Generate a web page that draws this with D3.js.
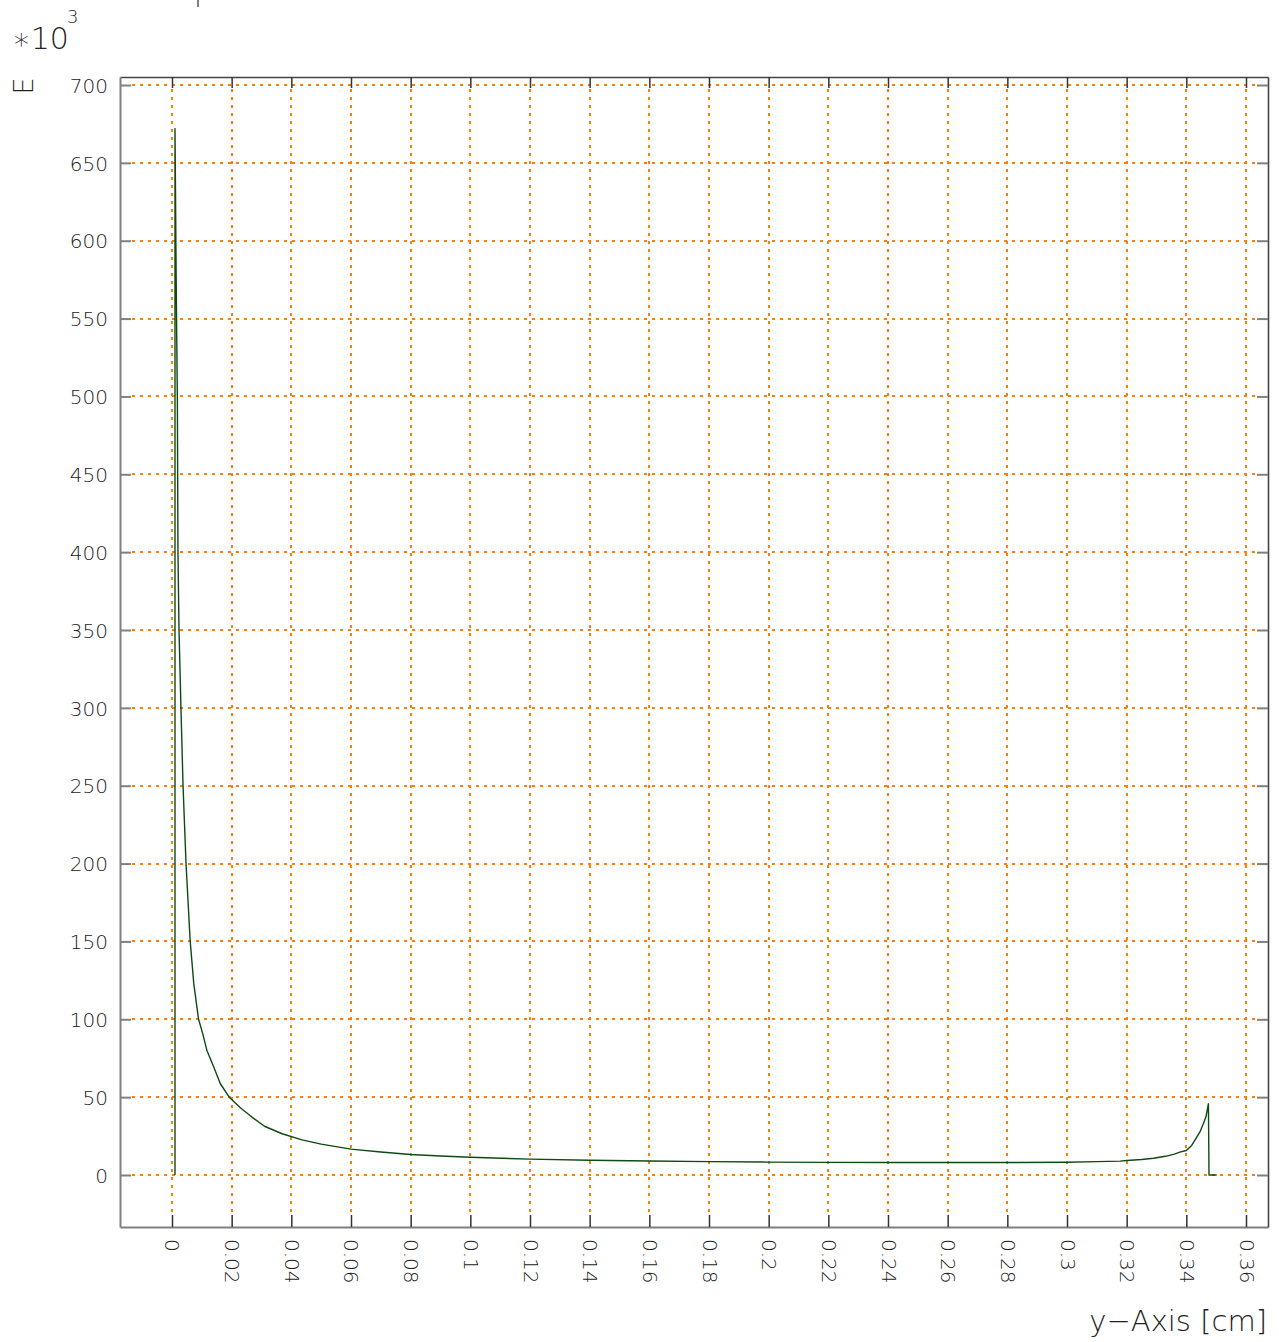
<!DOCTYPE html>
<html>
<head>
<meta charset="utf-8">
<script src="https://cdn.jsdelivr.net/npm/d3@7"></script>
<style>
  html, body { margin: 0; padding: 0; background: #fff; }
  svg { display: block; }
  text { font-family: "DejaVu Sans", sans-serif; font-weight: 200; fill: #222; }
</style>
</head>
<body>
<svg id="chart" width="1279" height="1342"></svg>
<script>
// ---- data ----
const posX = [0.0010, 0.0010, 0.0012, 0.0014, 0.0016, 0.0018, 0.0020, 0.00235, 0.0030, 0.0037,
              0.0047, 0.0061, 0.0073, 0.0089, 0.0103, 0.0117, 0.0140, 0.0162, 0.0192,
              0.0230, 0.0268, 0.0310, 0.0369, 0.0436, 0.050, 0.060, 0.070, 0.080, 0.090,
              0.10, 0.12, 0.14, 0.16, 0.18, 0.20, 0.22, 0.24, 0.26, 0.28,
              0.30, 0.31, 0.3178, 0.3200, 0.3250, 0.3290, 0.3330, 0.3360, 0.3378, 0.3400,
              0.3418, 0.3435, 0.3446, 0.3457, 0.3466, 0.3474, 0.3476, 0.3502];
const fieldE = [0, 672, 625, 575, 535, 498, 400, 350, 300, 250,
                200, 150, 122.9, 100, 90.8, 80, 69.3, 58.6, 50,
                43, 37.2, 31.3, 26.5, 22.6, 19.8, 16.6, 14.8, 13.2, 12.2,
                11.4, 10.2, 9.5, 9.0, 8.6, 8.3, 8.1, 8.0, 8.0, 8.0,
                8.2, 8.6, 8.9, 9.3, 10.0, 10.8, 12.0, 13.4, 14.7, 15.7,
                19.0, 24.3, 27.8, 32.9, 37.5, 45.8, 0, 0];
const xTicks = [0, 0.02, 0.04, 0.06, 0.08, 0.1, 0.12, 0.14, 0.16, 0.18,
                0.2, 0.22, 0.24, 0.26, 0.28, 0.3, 0.32, 0.34, 0.36];
const yTicks = [0, 50, 100, 150, 200, 250, 300, 350, 400, 450, 500, 550, 600, 650, 700];
const xTitle = "y\u2212Axis [cm]";
const yTitle = "E";
const yScaleLabel = "\u221710";
const yScaleExp = "3";

// ---- layout ----
const L = 120, R = 1268, T = 77, B = 1227;
const svg = d3.select("#chart");

const x = d3.scaleLinear().domain([-0.017430, 0.367374]).range([L, R]);
const y = d3.scaleLinear().domain([-33.394, 705.138]).range([B, T]);

// grid
const grid = svg.append("g").attr("stroke", "#ff8000").attr("stroke-width", 2)
  .attr("stroke-dasharray", "3,5");
grid.selectAll("line.v").data(xTicks).join("line").attr("class", "v")
  .attr("x1", d => Math.round(x(d))).attr("x2", d => Math.round(x(d)))
  .attr("y1", T + 12).attr("y2", B - 12);
grid.selectAll("line.h").data(yTicks).join("line").attr("class", "h")
  .attr("y1", d => Math.round(y(d))).attr("y2", d => Math.round(y(d)))
  .attr("x1", L + 12).attr("x2", R - 11);

const fmt = d => String(+d.toFixed(2));

// axes
const gB = svg.append("g").attr("transform", `translate(0,${B})`)
  .call(d3.axisBottom(x).tickValues(xTicks).tickSize(-12).tickSizeOuter(0).tickFormat(fmt));
const gT = svg.append("g").attr("transform", `translate(0,${T})`)
  .call(d3.axisTop(x).tickValues(xTicks).tickSize(-11).tickSizeOuter(0).tickFormat(""));
const gL = svg.append("g").attr("transform", `translate(${L},0)`)
  .call(d3.axisLeft(y).tickValues(yTicks).tickSize(-11).tickSizeOuter(0).tickFormat(d3.format("d")));
const gR = svg.append("g").attr("transform", `translate(${R},0)`)
  .call(d3.axisRight(y).tickValues(yTicks).tickSize(-11).tickSizeOuter(0).tickFormat(""));

[gB, gL].forEach(g => {
  g.select(".domain").attr("stroke", "#808080").attr("stroke-width", 2);
});
[gT, gR].forEach(g => {
  g.select(".domain").attr("stroke", "#444").attr("stroke-width", 1.6);
});
gB.selectAll(".tick line").attr("stroke", "#333").attr("stroke-width", 1.5);
gT.selectAll(".tick line").attr("stroke", "#333").attr("stroke-width", 1.5);
gL.selectAll(".tick line").attr("stroke", "#808080").attr("stroke-width", 2);
gR.selectAll(".tick line").attr("stroke", "#808080").attr("stroke-width", 2);

svg.selectAll(".tick text").style("font-family", '"DejaVu Sans", sans-serif')
  .style("font-weight", 200).style("font-size", "20px").attr("fill", "#222");
gB.selectAll(".tick text")
  .attr("transform", "rotate(90)").attr("x", 12).attr("y", 0).attr("dy", "0.35em")
  .attr("text-anchor", "start");
gL.selectAll(".tick text").attr("x", -12).attr("dy", "0.36em");

// data line
const line = d3.line().x((d, i) => x(posX[i])).y(d => y(d));
svg.append("path").datum(fieldE)
  .attr("d", line).attr("fill", "none").attr("stroke", "#0e4a12")
  .attr("stroke-width", 1.4).attr("stroke-linejoin", "round");

// titles
svg.append("text").attr("x", R - 1).attr("y", 1331).attr("text-anchor", "end")
  .style("font-size", "29px").text(xTitle);
svg.append("text").attr("transform", "translate(33,86) rotate(-90)")
  .attr("text-anchor", "middle").style("font-size", "27px").text(yTitle);
const sc = svg.append("text").attr("x", 12).attr("y", 49).style("font-size", "30px");
sc.append("tspan").text(yScaleLabel);
sc.append("tspan").attr("dy", -26).attr("dx", -2).style("font-size", "18px").text(yScaleExp);

// small remnant mark at top
svg.append("line").attr("x1", 198).attr("x2", 198).attr("y1", 0).attr("y2", 7)
  .attr("stroke", "#555").attr("stroke-width", 1.5);
</script>
</body>
</html>
